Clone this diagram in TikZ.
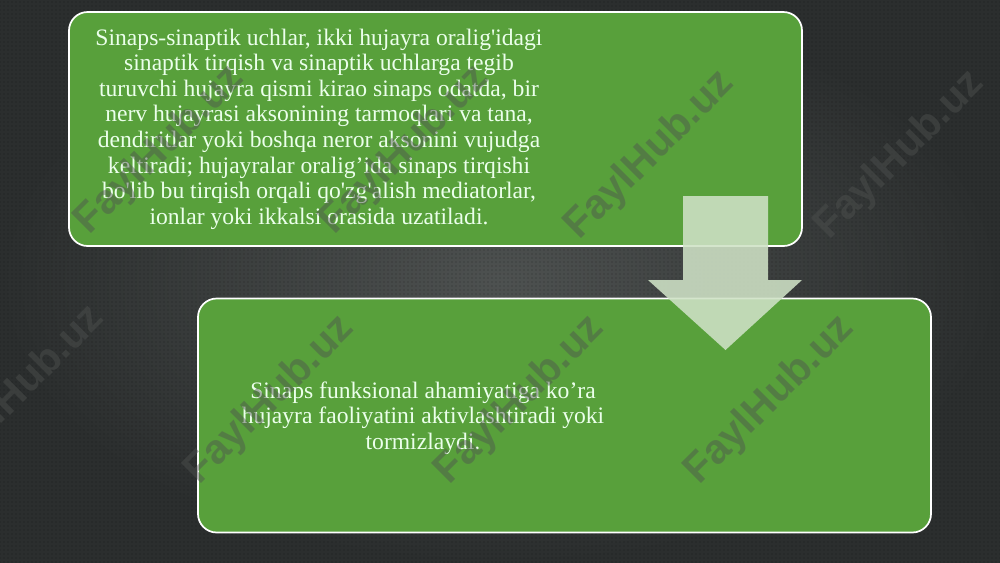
\documentclass[tikz,border=0pt]{standalone}
\usepackage{fontspec}
\setmainfont{Liberation Serif}[Ligatures=TeXOff]
\newfontfamily\wmfont{Liberation Sans}
\usetikzlibrary{patterns}
\definecolor{slidebg}{HTML}{3A3E3D}
\definecolor{slidebgdark}{HTML}{2B2E2E}
\definecolor{boxgreen}{HTML}{58A03B}
\definecolor{arrowfill}{HTML}{CFE2C6}
\definecolor{wmgray}{HTML}{4F5250}
\begin{document}
\begin{tikzpicture}[x=0.75pt,y=-0.75pt,
    box/.style={draw=white,line width=1.3pt,fill=boxgreen,rounded corners=14pt,
      minimum width=549.75pt,minimum height=175.5pt,inner sep=0pt},
    boxtext/.style={text=white!92!green,align=center,font=\fontsize{17.7}{19.2}\selectfont},
    wmark/.style={text=wmgray,opacity=0.45,rotate=45,font=\wmfont\bfseries\fontsize{31}{31}\selectfont}]
  % background
  \fill[inner color=slidebg!90!white,outer color=slidebgdark] (0,0) rectangle (1000,562);
  \fill[pattern=dots,pattern color=black,opacity=0.35] (0,0) rectangle (1000,562);
  \useasboundingbox (0,0) rectangle (1000,562);
  % boxes
  \node[box] (box1) at (435.5,129) {};
  \node[box] (box2) at (564.5,415.5) {};
  \node[boxtext] (txt1) at (319,129) {Sinaps-sinaptik uchlar, ikki hujayra oralig'idagi\\
    sinaptik tirqish va sinaptik uchlarga tegib\\
    turuvchi hujayra qismi kirao sinaps odatda, bir\\
    nerv hujayrasi aksonining tarmoqlari va tana,\\
    dendiritlar yoki boshqa neror aksonini vujudga\\
    keltiradi; hujayralar oralig’ida sinaps tirqishi\\
    bo'lib bu tirqish orqali qo'zg'alish mediatorlar,\\
    ionlar yoki ikkalsi orasida uzatiladi.};
  \node[boxtext] (txt2) at (423,418) {Sinaps funksional ahamiyatiga ko’ra\\
    hujayra faoliyatini aktivlashtiradi yoki\\
    tormizlaydi.};
  % arrow
  \fill[arrowfill,opacity=0.88] (683,196) -- (768,196) -- (768,280) -- (802,280)
    -- (725.5,350) -- (648,280) -- (683,280) -- cycle;
  % watermarks
  \foreach \wx/\wy [count=\i] in {160/150,405/150,650/155,900/155,20/390,270/400,520/400,770/400}
    \node[wmark] (wm\i) at (\wx,\wy) {FaylHub.uz};
\end{tikzpicture}
\end{document}
